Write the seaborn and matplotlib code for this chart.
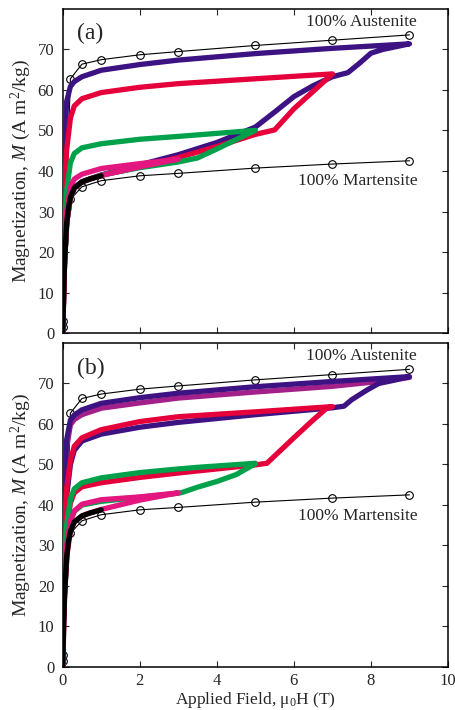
import numpy as np
import pandas as pd
import matplotlib
matplotlib.use("Agg")
import matplotlib.pyplot as plt
import seaborn as sns

# ---- reference curves (open circles) ----
aus_field = [0.0, 0.2, 0.5, 1, 2, 3, 5, 7, 9]
aus_M = [3.0, 62.7, 66.3, 67.4, 68.6, 69.4, 70.9, 72.2, 73.5]
mar_field = [0.0, 0.2, 0.5, 1, 2, 3, 5, 7, 9]
mar_M = [1.5, 33.0, 36.1, 37.6, 38.8, 39.4, 40.7, 41.7, 42.5]

# ---- virgin curve (black) ----
virgin_field = [0, 0.02, 0.05, 0.1, 0.15, 0.2, 0.3, 0.5, 0.7, 1.0]
virgin_M = [0, 8, 18, 27, 31, 33.5, 35.8, 37.3, 38.0, 38.8]

# ---- panel (a): loops starting from virgin state ----
a_purple_up_f = [0, 0.05, 0.1, 0.2, 0.3, 0.5, 0.7, 1, 2, 3, 4, 5, 5.5, 6, 6.5, 7, 7.4, 7.7, 8.0, 8.3, 8.6, 9.0]
a_purple_up_M = [0, 18, 27, 33.5, 35.8, 37.3, 38, 39, 41.5, 44, 47, 50.8, 54.5, 58.3, 61, 63.2, 64.2, 66.5, 69.0, 69.9, 70.5, 71.3]
a_purple_dn_f = [9, 7, 5, 3, 2, 1, 0.5, 0.3, 0.2, 0.1, 0.05, 0.02, 0]
a_purple_dn_M = [71.3, 70.2, 68.9, 67.3, 66.2, 64.8, 63.2, 62.0, 60.8, 57, 45, 25, 0]

a_red_up_f = [0, 0.05, 0.1, 0.2, 0.3, 0.5, 0.7, 1, 2, 3, 4, 5, 5.5, 6, 6.5, 7]
a_red_up_M = [0, 18, 27, 33.5, 35.8, 37.3, 38, 38.9, 41, 43.3, 46, 49, 50.1, 55.3, 59.6, 63.9]
a_red_dn_f = [7, 5, 3, 2, 1, 0.5, 0.3, 0.2, 0.1, 0.05, 0.02, 0]
a_red_dn_M = [63.9, 62.7, 61.5, 60.6, 59.3, 57.8, 56, 53, 45, 35, 20, 0]

a_green_up_f = [0, 0.05, 0.1, 0.2, 0.3, 0.5, 0.7, 1, 2, 3, 3.5, 4, 4.5, 5]
a_green_up_M = [0, 18, 27, 33.5, 35.8, 37.3, 38, 39.0, 40.8, 42.2, 43.2, 45.4, 47.7, 50.0]
a_green_dn_f = [5, 3, 2, 1, 0.5, 0.3, 0.2, 0.1, 0.05, 0.02, 0]
a_green_dn_M = [50.0, 48.5, 47.8, 46.7, 45.7, 44.3, 42, 35, 27, 15, 0]

a_pink_up_f = [0, 0.05, 0.1, 0.2, 0.3, 0.5, 0.7, 1, 2, 3]
a_pink_up_M = [0, 18, 27, 33.5, 35.8, 37.3, 38, 38.9, 41.0, 42.9]
a_pink_dn_f = [3, 2, 1, 0.5, 0.3, 0.2, 0.1, 0.05, 0.02, 0]
a_pink_dn_M = [42.9, 41.8, 40.6, 39.2, 38, 36, 30, 22, 12, 0]

# ---- panel (b): nested loops, each from the previous remanent state ----
b_plum_f = [0, 0.02, 0.05, 0.1, 0.2, 0.3, 0.5, 1, 2, 3, 5, 7, 8.5, 9]
b_plum_M = [0, 22, 42, 54, 59.8, 61.1, 62.3, 63.9, 65.2, 66.4, 67.9, 69.3, 70.8, 71.5]

b_purple_up_f = [0, 0.02, 0.05, 0.1, 0.2, 0.3, 0.5, 1, 2, 3, 5, 7, 7.3, 7.5, 7.9, 8.2, 8.6, 9.0]
b_purple_up_M = [0, 18, 32, 42, 50, 53.5, 55.8, 57.5, 59.2, 60.4, 62.3, 64.0, 64.4, 66.0, 68.4, 70.0, 70.8, 71.7]
b_purple_dn_f = [9, 7, 5, 3, 2, 1, 0.5, 0.3, 0.2, 0.1, 0.05, 0.02, 0]
b_purple_dn_M = [71.7, 70.5, 69.2, 67.6, 66.5, 65.1, 63.5, 62.2, 61, 56, 45, 25, 0]

b_red_up_f = [0, 0.02, 0.05, 0.1, 0.2, 0.3, 0.5, 1, 2, 3, 4, 5, 5.3, 6, 6.5, 6.85, 7]
b_red_up_M = [0, 14, 26, 34, 40.5, 43, 44.5, 45.5, 46.8, 47.9, 48.9, 49.9, 50.3, 56.6, 61.0, 63.9, 64.3]
b_red_dn_f = [7, 5, 3, 2, 1, 0.5, 0.3, 0.2, 0.1, 0.05, 0.02, 0]
b_red_dn_M = [64.3, 63.0, 61.8, 60.6, 58.6, 56.6, 54.5, 51, 44, 34, 20, 0]

b_green_up_f = [0, 0.02, 0.05, 0.1, 0.2, 0.3, 0.5, 1, 2, 3, 3.1, 3.5, 4, 4.5, 5]
b_green_up_M = [0, 12, 22, 30, 36, 38.4, 40.0, 40.9, 41.9, 42.9, 43.1, 44.4, 45.8, 47.5, 50.2]
b_green_dn_f = [5, 3.5, 3, 2, 1, 0.5, 0.3, 0.2, 0.1, 0.05, 0.02, 0]
b_green_dn_M = [50.3, 49.3, 48.9, 48.0, 46.7, 45.5, 44, 41.5, 35, 27, 15, 0]

b_pink_up_f = [0, 0.05, 0.1, 0.2, 0.3, 0.5, 0.7, 1, 2, 3]
b_pink_up_M = [0, 18, 27, 33.5, 35.8, 37.3, 38, 38.9, 41.2, 43.0]
b_pink_dn_f = [3, 2, 1, 0.5, 0.3, 0.2, 0.1, 0.05, 0.02, 0]
b_pink_dn_M = [43.0, 42.0, 41.3, 40.2, 38.5, 36, 30, 22, 12, 0]

PURPLE = "#3d1282"
PLUM = "#a3208a"
RED = "#e5003c"
GREEN = "#00a14b"
PINK = "#e3177f"
BLACK = "#000000"
TEXT = "#262626"

SERIF = "Liberation Serif"


def loop_frame(up_f, up_M, dn_f=None, dn_M=None):
    f = list(up_f) + (list(dn_f) if dn_f else [])
    m = list(up_M) + (list(dn_M) if dn_M else [])
    return pd.DataFrame({"field": f, "M": m})


def draw_panel(ax, loops, tag, show_xlabels):
    for frame, color in loops:
        sns.lineplot(data=frame, x="field", y="M", sort=False, estimator=None,
                     color=color, lw=3.8, ax=ax, zorder=3)
    for f, m in [(aus_field, aus_M), (mar_field, mar_M)]:
        ref = pd.DataFrame({"field": f, "M": m})
        sns.lineplot(data=ref, x="field", y="M", sort=False, estimator=None,
                     color="black", lw=0.8, marker="o", markersize=5.5,
                     markerfacecolor="none", markeredgecolor="black",
                     markeredgewidth=0.8, ax=ax, zorder=2)

    ax.set_xlim(0, 10)
    ax.set_ylim(0, 80)
    ax.set_xticks(np.arange(0, 11, 2))
    ax.set_yticks(np.arange(0, 71, 10))
    ax.tick_params(direction="in", top=True, right=True, length=4, width=0.8,
                   labelsize=12, pad=6, colors=TEXT)
    ax.tick_params(axis="x", pad=4)
    for s in ax.spines.values():
        s.set_linewidth(1.1)
        s.set_color("black")
    ax.set_ylabel("Magnetization, $M$ (A m$^2$/kg)", fontsize=14, color=TEXT)
    ax.yaxis.set_label_coords(-0.078, 0.5)
    if show_xlabels:
        ax.set_xlabel("Applied Field, μ$_0$H (T)", fontsize=12.5, color=TEXT)
        ax.xaxis.set_label_coords(0.5, -0.072)
    else:
        ax.set_xlabel("")
        ax.tick_params(axis="x", labelbottom=False)

    ax.text(0.72, 73.8, tag, fontsize=17, ha="center", va="center", color=TEXT)
    ax.text(9.2, 76.8, "100% Austenite", fontsize=12.5, ha="right", va="center",
            color=TEXT)
    ax.text(9.2, 37.4, "100% Martensite", fontsize=12.5, ha="right", va="center",
            color=TEXT)


sns.set_style("ticks")
plt.rcParams["font.family"] = [SERIF, "DejaVu Serif"]
plt.rcParams["mathtext.fontset"] = "custom"
plt.rcParams["mathtext.rm"] = SERIF
plt.rcParams["mathtext.it"] = SERIF + ":italic"

fig = plt.figure(figsize=(4.56, 7.10), dpi=100)
ax_a = fig.add_axes([0.1375, 0.5305, 0.845, 0.4575])
ax_b = fig.add_axes([0.1375, 0.0606, 0.845, 0.4563])

virgin = loop_frame(virgin_field, virgin_M)

loops_a = [
    (loop_frame(a_purple_up_f, a_purple_up_M, a_purple_dn_f, a_purple_dn_M), PURPLE),
    (loop_frame(a_red_up_f, a_red_up_M, a_red_dn_f, a_red_dn_M), RED),
    (loop_frame(a_green_up_f, a_green_up_M, a_green_dn_f, a_green_dn_M), GREEN),
    (loop_frame(a_pink_up_f, a_pink_up_M, a_pink_dn_f, a_pink_dn_M), PINK),
    (virgin, BLACK),
]
loops_b = [
    (loop_frame(b_plum_f, b_plum_M), PLUM),
    (loop_frame(b_purple_up_f, b_purple_up_M, b_purple_dn_f, b_purple_dn_M), PURPLE),
    (loop_frame(b_red_up_f, b_red_up_M, b_red_dn_f, b_red_dn_M), RED),
    (loop_frame(b_green_up_f, b_green_up_M, b_green_dn_f, b_green_dn_M), GREEN),
    (loop_frame(b_pink_up_f, b_pink_up_M, b_pink_dn_f, b_pink_dn_M), PINK),
    (virgin, BLACK),
]

draw_panel(ax_a, loops_a, "(a)", show_xlabels=False)
draw_panel(ax_b, loops_b, "(b)", show_xlabels=True)

fig.savefig("out.png", dpi=100)
